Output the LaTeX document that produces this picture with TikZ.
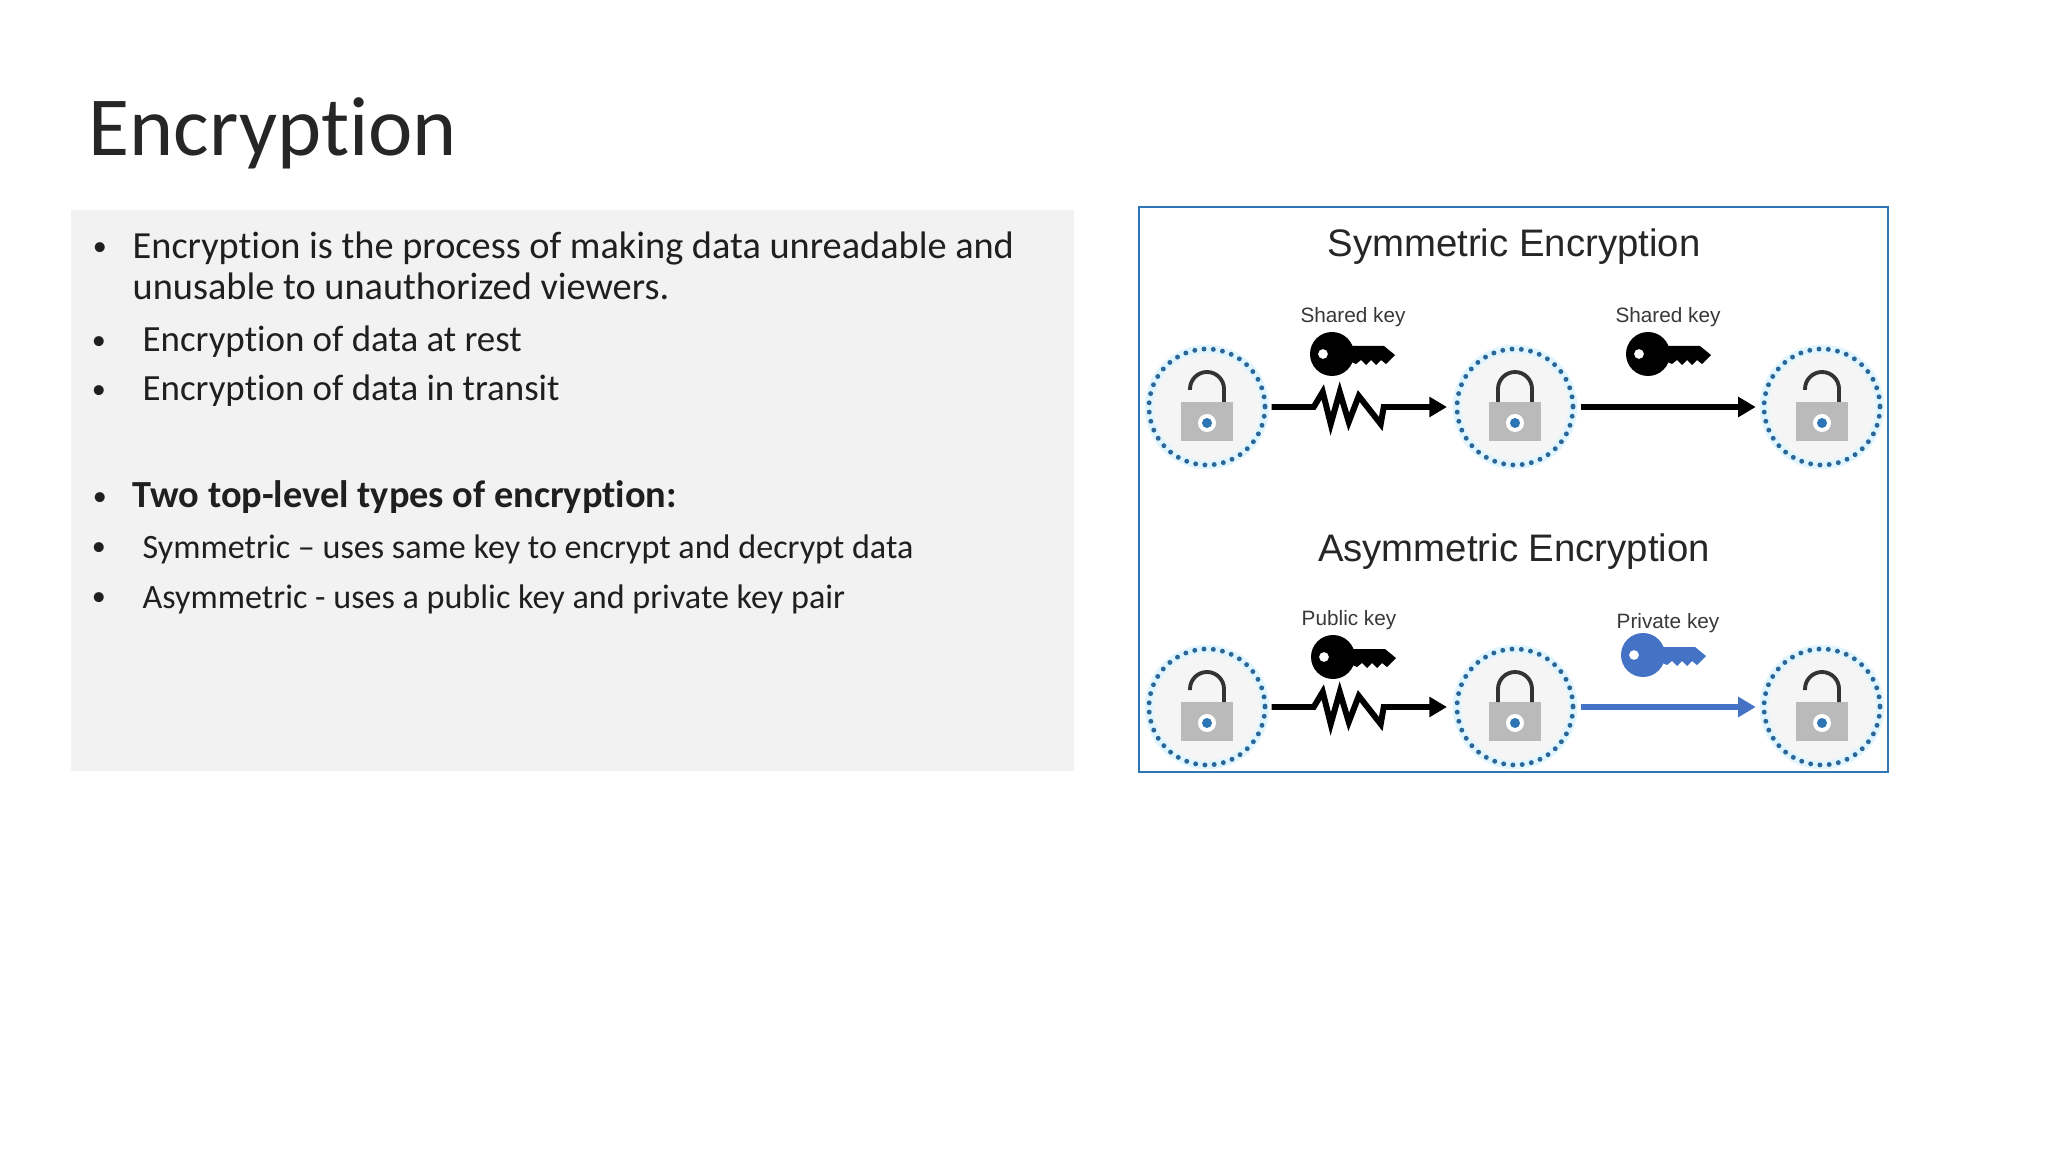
\documentclass[tikz,border=0pt]{standalone}
\usepackage{fontspec}
\setmainfont{Carlito}[Ligatures=CommonOff]
\newfontfamily\figfont{Liberation Sans}
\usetikzlibrary{arrows.meta}
\definecolor{panelgray}{HTML}{F2F2F2}
\definecolor{framblue}{HTML}{2E75B6}
\definecolor{keyblue}{HTML}{4472C4}
\definecolor{dotblue}{HTML}{2A6698}
\tikzset{
  bodytext/.style={anchor=base west, text=black!88, font=\fontsize{10.9}{11.7}\selectfont, inner sep=0pt},
  midtext/.style={bodytext, font=\fontsize{10.5}{11.7}\selectfont},
  subtext/.style={bodytext, font=\fontsize{9.7}{11.7}\selectfont},
  bulmark/.style={anchor=base, inner sep=0pt, text=black!88, font=\fontsize{8}{9}\selectfont},
  figtitle/.style={anchor=base, inner sep=0pt, text=black!85, font=\figfont\fontsize{10.9}{12}\selectfont},
  keylabel/.style={anchor=base, inner sep=0pt, text=black!78, font=\figfont\fontsize{5.9}{7}\selectfont},
  lockring/.style={circle, minimum size=1.24cm, inner sep=0pt, fill=black!4},
  wire/.style={line width=1.7pt, miter limit=6, -{Triangle[length=5pt,width=5.5pt]}, shorten <=0.5pt, shorten >=1.5pt},
  lock/.pic={
    \draw[cyan!12, line width=2.4pt] (0,0) circle (58);
    \draw[dotblue, line width=1.4pt, line cap=round, dash pattern=on 0pt off 2.65pt] (0,0) circle (58);
    \fill[black!27] (-26,-5) rectangle (26,34);
    \draw[black!80, line width=1.1pt] (-17,#1) -- (-17,-18) arc[start angle=180, end angle=360, radius=17] -- (17,-5);
    \fill[white] (0,16) circle (9);
    \fill[framblue] (0,16) circle (5);
  },
  key/.pic={
    \fill[#1, even odd rule] (0,0) circle (22) (-9,0) circle (5);
    \fill[#1] (15,-8) -- (52,-8) -- (63,1) -- (54,10) -- (49,6) -- (44,11) -- (39,6) -- (34,11) -- (29,6) -- (24,10) -- (15,6) -- cycle;
  }
}
\begin{document}
\begin{tikzpicture}[x=0.01cm, y=-0.01cm]
  \useasboundingbox (0,0) rectangle (2048,1152);
  \fill[white] (0,0) rectangle (2048,1152);

  \node[anchor=base west, inner sep=0pt, text=black!85, font=\fontsize{23.9}{28}\selectfont] (title) at (88,156) {Encryption};

  \fill[panelgray] (71,210) rectangle (1074,771);
  \node[bulmark] (bulA) at (100,256) {•};
  \node[bodytext] (lineA) at (132,259) {Encryption is the process of making data unreadable and};
  \node[bodytext] (lineB) at (132,300) {unusable to unauthorized viewers.};
  \node[bulmark] (bulB) at (99,350) {•};
  \node[midtext] (lineC) at (142,352) {Encryption of data at rest};
  \node[bulmark] (bulC) at (99,399) {•};
  \node[midtext] (lineD) at (142,401) {Encryption of data in transit};
  \node[bulmark] (bulD) at (100,505) {•};
  \node[bodytext, font=\fontsize{10.9}{11.7}\selectfont\bfseries] (lineE) at (132,508) {Two top-level types of encryption:};
  \node[bulmark] (bulE) at (99,555) {•};
  \node[subtext] (lineF) at (142,558) {Symmetric – uses same key to encrypt and decrypt data};
  \node[bulmark] (bulF) at (99,605) {•};
  \node[subtext] (lineG) at (142,608) {Asymmetric - uses a public key and private key pair};

  \draw[framblue, fill=white, line width=0.45pt] (1139,207) rectangle (1888,772);

  \node[figtitle] (symtitle) at (1514,257) {Symmetric Encryption};
  \node[figtitle] (asymtitle) at (1514,562) {Asymmetric Encryption};

  \node[keylabel] (sharedA) at (1353,323) {Shared key};
  \node[keylabel] (sharedB) at (1668,323) {Shared key};
  \node[keylabel] (public) at (1349,626) {Public key};
  \node[keylabel] (private) at (1668,629) {Private key};

  \node[lockring] (lockA) at (1207,407) {};
  \node[lockring] (lockB) at (1515,407) {};
  \node[lockring] (lockC) at (1822,407) {};
  \node[lockring] (lockD) at (1207,707) {};
  \node[lockring] (lockE) at (1515,707) {};
  \node[lockring] (lockF) at (1822,707) {};

  \pic at (lockA) {lock=-17};
  \pic at (lockB) {lock=-5};
  \pic at (lockC) {lock=-17};
  \pic at (lockD) {lock=-17};
  \pic at (lockE) {lock=-5};
  \pic at (lockF) {lock=-17};

  \pic at (1332,354) {key=black};
  \pic at (1648,354) {key=black};
  \pic at (1333,657) {key=black};
  \pic at (1643,655) {key=keyblue};

  \draw[wire] (lockA.east) -- ++(44,0) -- ++(9,-15) -- ++(8,32) -- ++(9,-32) -- ++(9,30) -- ++(10,-26) -- ++(22,28) -- ++(3,-17) -- (lockB.west);
  \draw[wire, shorten <=1pt, shorten >=1pt] (lockB.east) -- (lockC.west);
  \draw[wire] (lockD.east) -- ++(44,0) -- ++(9,-15) -- ++(8,32) -- ++(9,-32) -- ++(9,30) -- ++(10,-26) -- ++(22,28) -- ++(3,-17) -- (lockE.west);
  \draw[wire, keyblue, shorten <=1pt, shorten >=1pt] (lockE.east) -- (lockF.west);
\end{tikzpicture}
\end{document}
